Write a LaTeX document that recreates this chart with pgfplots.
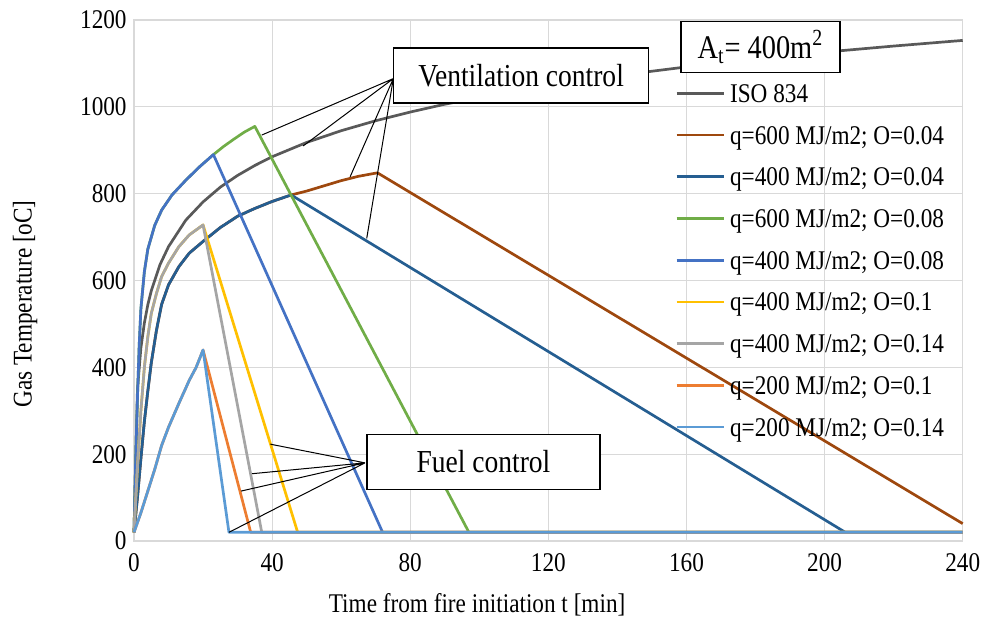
\documentclass[border=0pt]{standalone}
\usepackage{fontspec}
\setmainfont{Liberation Serif}[FakeStretch=0.86]
\usepackage{pgfplots}
\pgfplotsset{compat=1.18}
\definecolor{isogray}{HTML}{595959}
\definecolor{brownc}{HTML}{9E480E}
\definecolor{darkblue}{HTML}{255E91}
\definecolor{greenc}{HTML}{70AD47}
\definecolor{bluec}{HTML}{4472C4}
\definecolor{yellowc}{HTML}{FFC000}
\definecolor{grayc}{HTML}{A5A5A5}
\definecolor{orangec}{HTML}{ED7D31}
\definecolor{lightblue}{HTML}{5B9BD5}
\definecolor{gridgray}{HTML}{D9D9D9}

\begin{document}
\begin{tikzpicture}
\begin{axis}[
  at={(0,0)}, anchor=south west,
  scale only axis, width=414.35pt, height=260.5pt,
  xmin=0, xmax=240, ymin=0, ymax=1200,
  xtick={0,40,...,240}, ytick={0,200,...,1200},
  grid=major, grid style={draw=gridgray, line width=0.6pt},
  axis line style={draw=gridgray, line width=0.6pt},
  major tick length=0pt,
  clip=false,
  tick label style={font=\fontsize{13.5}{16}\selectfont, inner sep=0pt},
  /pgf/number format/assume math mode=true,
  /pgf/number format/1000 sep={},
  xticklabel style={yshift=-6pt},
  yticklabel style={xshift=-3.5pt},
  xlabel={Time from fire initiation t [min]},
  ylabel={Gas Temperature [oC]},
  label style={font=\fontsize{13.5}{16}\selectfont},
  x label style={at={(axis description cs:0.414,-0.1228)}, anchor=center},
  y label style={at={(axis description cs:-0.1315,0.455)}, anchor=center},
  legend style={at={(0.6528,0.8810)}, anchor=north west, draw=none, fill=none,
    inner sep=0pt, row sep=9.85pt, column sep=2.5pt,
    font=\fontsize{13.5}{16}\selectfont,
    nodes={inner sep=0pt, text height=10pt, text depth=1pt}},
  legend cell align=left,
  legend image code/.code={\draw[#1, line width=1.35pt] (0pt,0pt) -- (23.5pt,0pt);},
  every axis plot/.append style={line width=1.35pt, line join=round, no markers},
]
% ISO 834
\addplot[isogray] coordinates {
  (0,20) (1,349) (2,445) (3,502) (4,544) (5,576) (7.5,636) (10,678)
  (15,739) (20,781) (25,815) (30,842) (35,865) (40,885) (50,918)
  (60,945) (70,968) (80,988) (90,1006) (100,1022) (110,1036) (120,1049)
  (140,1072) (160,1092) (180,1110) (200,1126) (220,1140) (240,1153)
};
% q=600, O=0.04
\addplot[brownc] coordinates {
  (0,20) (1,100) (2,190) (3,275) (4,345) (5,410) (6.5,485) (8,545)
  (10,590) (13,632) (16,663) (20,690) (25,722) (30,748) (35,766)
  (40,782) (45.5,797) (50,806) (55,818) (60,830) (65,840) (70.5,848)
  (240,40)
};
% q=400, O=0.04
\addplot[darkblue] coordinates {
  (0,20) (1,100) (2,190) (3,275) (4,345) (5,410) (6.5,485) (8,545)
  (10,590) (13,632) (16,663) (20,690) (25,722) (30,748) (35,766)
  (40,782) (45.5,797) (206,20) (240,20)
};
% q=600, O=0.08
\addplot[greenc] coordinates {
  (0,20) (0.5,190) (1,330) (1.5,450) (2,535) (3,620) (4,672) (6,727)
  (8,762) (11,797) (15,831) (19,862) (23,890) (26,909) (29,926)
  (32,942) (35,955) (97,20) (240,20)
};
% q=400, O=0.08
\addplot[bluec] coordinates {
  (0,20) (0.5,190) (1,330) (1.5,450) (2,535) (3,620) (4,672) (6,727)
  (8,762) (11,797) (15,831) (19,862) (23,890) (72,20) (240,20)
};
% q=400, O=0.1
\addplot[yellowc] coordinates {
  (0,20) (1,170) (2,300) (3,400) (4,470) (5,524) (6.5,570) (8,609)
  (10,640) (13,678) (16,705) (20,728) (47.4,20) (240,20)
};
% q=400, O=0.14
\addplot[grayc] coordinates {
  (0,20) (1,170) (2,300) (3,400) (4,470) (5,524) (6.5,570) (8,609)
  (10,640) (13,678) (16,705) (20,728) (37,20) (240,20)
};
% q=200, O=0.1
\addplot[orangec] coordinates {
  (0,20) (2,65) (4,115) (6,165) (8,220) (10,262) (13,317) (16,370)
  (18,400) (20,440) (33.8,20) (240,20)
};
% q=200, O=0.14
\addplot[lightblue] coordinates {
  (0,20) (2,65) (4,115) (6,165) (8,220) (10,262) (13,317) (16,370)
  (18,400) (20,440) (27.5,20) (240,20)
};
\legend{ISO 834,
  q=600 MJ/m2; O=0.04, q=400 MJ/m2; O=0.04,
  q=600 MJ/m2; O=0.08, q=400 MJ/m2; O=0.08,
  q=400 MJ/m2; O=0.1, q=400 MJ/m2; O=0.14,
  q=200 MJ/m2; O=0.1, q=200 MJ/m2; O=0.14}

% callouts
\draw[black, line width=0.5pt]
  (axis cs:75.1,1065) -- (axis cs:37.0,935)
  (axis cs:75.1,1065) -- (axis cs:49.0,910)
  (axis cs:75.1,1065) -- (axis cs:62.6,839)
  (axis cs:75.1,1065) -- (axis cs:67.4,697);
\draw[black, line width=0.5pt]
  (axis cs:66.9,180) -- (axis cs:39.5,223)
  (axis cs:66.9,180) -- (axis cs:34.2,155)
  (axis cs:66.9,180) -- (axis cs:31.0,115)
  (axis cs:66.9,180) -- (axis cs:27.5,20);
\node[draw=black, line width=0.65pt, fill=white, inner sep=0pt,
  minimum width=127.5pt, minimum height=27.5pt,
  font=\fontsize{16}{18}\selectfont] at (axis cs:112.1,1072) {Ventilation control};
\node[draw=black, line width=0.65pt, fill=white, inner sep=0pt,
  minimum width=116.5pt, minimum height=27.5pt,
  font=\fontsize{16}{18}\selectfont] at (axis cs:101.2,182) {Fuel control};
\node[draw=black, line width=0.65pt, fill=white, inner sep=0pt,
  minimum width=79.5pt, minimum height=25.5pt,
  font=\fontsize{16.5}{18}\selectfont] at (axis cs:181.4,1138) {A\textsubscript{t}= 400m\textsuperscript{2}};
\end{axis}
\pgfresetboundingbox
\path (-67pt,-46.5pt) rectangle (423.5pt,270.5pt);
\end{tikzpicture}
\end{document}
